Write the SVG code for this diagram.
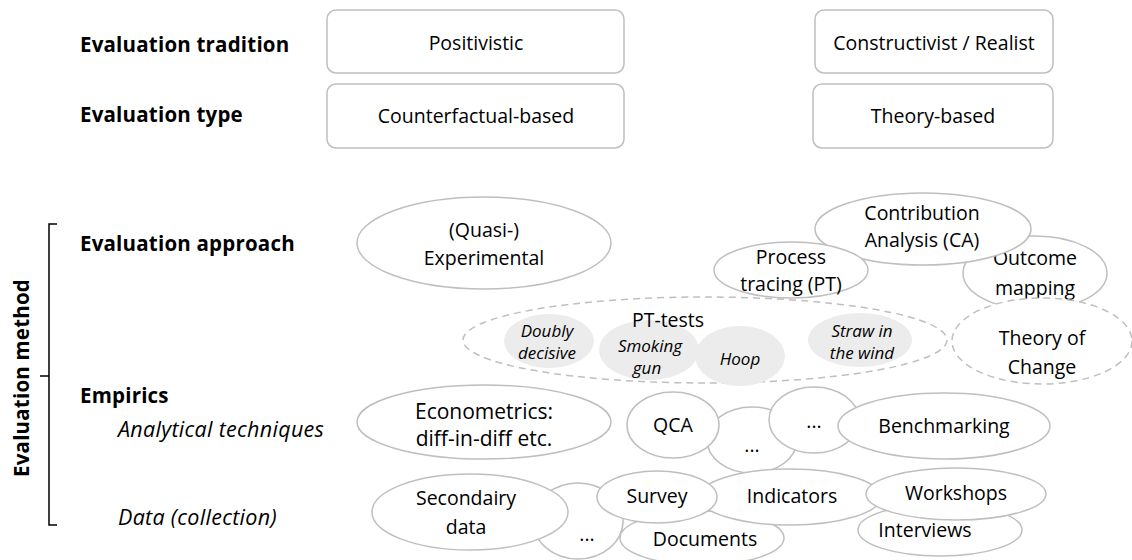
<svg xmlns="http://www.w3.org/2000/svg" width="1132" height="560" viewBox="0 0 1132 560">
<style>
text{font-family:"Open Sans","Liberation Sans",Arial,sans-serif;fill:#000}
.lb{font-size:20.5px;font-weight:bold;letter-spacing:0.2px}
.li{font-size:21.5px;font-style:italic;letter-spacing:0.3px}
.t{font-size:19.5px;text-anchor:middle}
.te{font-size:21px;text-anchor:middle}
.ts{font-size:17px;text-anchor:middle;font-style:italic}
.td{font-size:19.5px;text-anchor:middle}
.box{fill:#fff;stroke:#bfbfbf;stroke-width:1.5}
.el{fill:#fff;stroke:#bfbfbf;stroke-width:1.5}
.dash{fill:#fff;stroke:#bfbfbf;stroke-width:1.5;stroke-dasharray:7 5}
.gr{fill:#ececec;stroke:none}
</style>
<rect width="1132" height="560" fill="#fff"/>
<g id="labels">
<text class="lb" x="80" y="52">Evaluation tradition</text>
<text class="lb" x="80" y="122">Evaluation type</text>
<text class="lb" x="80" y="251">Evaluation approach</text>
<text class="lb" x="80" y="403">Empirics</text>
<text class="li" x="118" y="437">Analytical techniques</text>
<text class="li" x="118" y="525">Data (collection)</text>
<text class="lb" transform="translate(29,378) rotate(-90)" text-anchor="middle">Evaluation method</text>
</g>
<g id="connectors">
<path d="M57,224 H49 V525 H57 M40,376 H49" fill="none" stroke="#000" stroke-width="1.5"/>
</g>
<g id="positivistic"><rect class="box" x="327" y="10" width="297" height="63" rx="9"/><text class="t" x="476" y="50">Positivistic</text></g>
<g id="counterfactual"><rect class="box" x="327" y="84" width="297" height="64" rx="9"/><text class="t" x="476" y="123">Counterfactual-based</text></g>
<g id="constructivist"><rect class="box" x="815" y="10" width="238" height="63" rx="9"/><text class="t" x="934" y="50">Constructivist / Realist</text></g>
<g id="theory-based"><rect class="box" x="813" y="84" width="240" height="64" rx="9"/><text class="t" x="933" y="123">Theory-based</text></g>
<g id="quasi"><ellipse class="el" cx="484" cy="243" rx="127" ry="46"/><text class="t" x="484" y="237">(Quasi-)</text><text class="t" x="484" y="265">Experimental</text></g>
<g id="outcome"><ellipse class="el" cx="1035" cy="273" rx="72" ry="37"/><text class="t" x="1035" y="265">Outcome</text><text class="t" x="1035" y="295">mapping</text></g>
<g id="ca"><ellipse class="el" cx="923" cy="229" rx="108" ry="36"/><text class="t" x="922" y="220">Contribution</text><text class="t" x="922" y="247">Analysis (CA)</text></g>
<g id="pt"><ellipse class="el" cx="791" cy="270" rx="77" ry="28"/><text class="t" x="791" y="264">Process</text><text class="t" x="791" y="291">tracing (PT)</text></g>
<g id="pt-tests"><ellipse class="dash" cx="705" cy="340" rx="242" ry="43"/>
<ellipse class="gr" cx="549" cy="341" rx="45" ry="27"/>
<ellipse class="gr" cx="649" cy="350" rx="50" ry="30"/>
<ellipse class="gr" cx="740" cy="356" rx="45" ry="30"/>
<ellipse class="gr" cx="860" cy="340" rx="52" ry="27"/>
<text class="t" x="668" y="327">PT-tests</text>
<text class="ts" x="547" y="337">Doubly</text><text class="ts" x="547" y="359">decisive</text>
<text class="ts" x="650" y="352">Smoking</text><text class="ts" x="647" y="374">gun</text>
<text class="ts" x="740" y="365">Hoop</text>
<text class="ts" x="862" y="337">Straw in</text><text class="ts" x="862" y="359">the wind</text></g>
<g id="toc"><ellipse class="dash" cx="1042" cy="341" rx="90" ry="43"/><text class="t" x="1042" y="345">Theory of</text><text class="t" x="1042" y="374">Change</text></g>
<g id="econometrics"><ellipse class="el" cx="484" cy="422" rx="127" ry="37"/><text class="te" x="484" y="419">Econometrics:</text><text class="te" x="484" y="446">diff-in-diff etc.</text></g>
<g id="dots1"><ellipse class="el" cx="752" cy="440" rx="45" ry="33"/><text class="t" x="752" y="452">...</text></g>
<g id="qca"><ellipse class="el" cx="673" cy="425" rx="46" ry="33"/><text class="t" x="673" y="432">QCA</text></g>
<g id="dots2"><ellipse class="el" cx="814" cy="420" rx="45" ry="33"/><text class="t" x="814" y="428">...</text></g>
<g id="benchmarking"><ellipse class="el" cx="944" cy="426" rx="106" ry="33"/><text class="t" x="944" y="433">Benchmarking</text></g>
<g id="dots3"><ellipse class="el" cx="578" cy="521" rx="45" ry="38"/><text class="td" x="587" y="541">...</text></g>
<g id="interviews"><ellipse class="el" cx="940" cy="530" rx="82" ry="26"/><text class="td" x="925" y="537">Interviews</text></g>
<g id="documents"><ellipse class="el" cx="702" cy="538" rx="82" ry="27"/><text class="td" x="705" y="546">Documents</text></g>
<g id="indicators"><ellipse class="el" cx="790" cy="497" rx="91" ry="28"/><text class="td" x="792" y="503">Indicators</text></g>
<g id="workshops"><ellipse class="el" cx="956" cy="494" rx="90" ry="26"/><text class="td" x="956" y="500">Workshops</text></g>
<g id="survey"><ellipse class="el" cx="657" cy="497" rx="60" ry="26"/><text class="td" x="657" y="503">Survey</text></g>
<g id="secondairy"><ellipse class="el" cx="470" cy="512" rx="98" ry="38"/><text class="td" x="466" y="505">Secondairy</text><text class="td" x="466" y="534">data</text></g>
</svg>
